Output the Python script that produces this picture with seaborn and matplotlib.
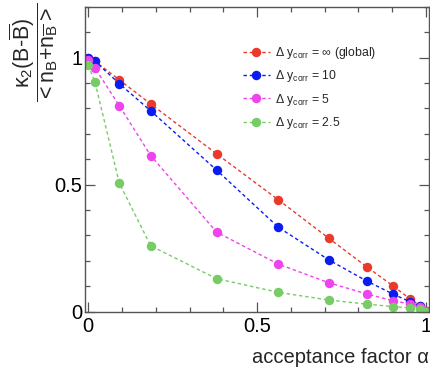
import matplotlib
matplotlib.use("Agg")
import matplotlib.pyplot as plt
from matplotlib.ticker import MultipleLocator, FuncFormatter
import seaborn as sns
import pandas as pd

# acceptance factor alpha at which the cumulant ratio was evaluated
alpha = [0.0, 0.02, 0.092, 0.185, 0.38, 0.563, 0.712, 0.824, 0.903, 0.953, 0.983, 1.0]

# normalised second cumulant of net baryons for each correlation length
ratio_global = [1.0, 0.985, 0.912, 0.817, 0.621, 0.440, 0.289, 0.177, 0.101, 0.050, 0.024, 0.004]
ratio_dy10 = [1.0, 0.985, 0.897, 0.790, 0.557, 0.332, 0.204, 0.121, 0.069, 0.039, 0.022, 0.003]
ratio_dy5 = [0.99, 0.958, 0.810, 0.614, 0.313, 0.187, 0.114, 0.070, 0.043, 0.030, 0.018, 0.002]
ratio_dy2p5 = [0.97, 0.902, 0.505, 0.259, 0.130, 0.076, 0.046, 0.030, 0.020, 0.015, 0.010, 0.0]

labels = [r"$\Delta$ y$_{\rm corr}$ = $\infty$ (global)",
          r"$\Delta$ y$_{\rm corr}$ = 10",
          r"$\Delta$ y$_{\rm corr}$ = 5",
          r"$\Delta$ y$_{\rm corr}$ = 2.5"]
colors = ["#ea3a2c", "#0a1cf0", "#ee44ee", "#77cc66"]

sns.set_style("ticks")
plt.rcParams["font.family"] = ["Liberation Sans", "DejaVu Sans"]
plt.rcParams["mathtext.fontset"] = "custom"
plt.rcParams["mathtext.rm"] = "Liberation Sans"
plt.rcParams["mathtext.it"] = "Liberation Sans"
plt.rcParams["mathtext.bf"] = "Liberation Sans:bold"

fig = plt.figure(figsize=(4.31, 3.68), dpi=100)
ax = fig.add_axes([85 / 431, 1 - 311.7 / 368, (429.3 - 85) / 431, (311.7 - 6.7) / 368])

for series, lab, col in zip([ratio_global, ratio_dy10, ratio_dy5, ratio_dy2p5], labels, colors):
    df = pd.DataFrame({"alpha": alpha, "ratio": series})
    sns.lineplot(data=df, x="alpha", y="ratio", ax=ax, color=col, label=lab,
                 linestyle=(0, (2.5, 2)), linewidth=1.0, marker="o", markersize=6.8,
                 markeredgewidth=0, markeredgecolor=col, markerfacecolor=col)

ax.set_xlim(-0.0098, 1.0098)
ax.set_ylim(0, 1.2)
ax.xaxis.set_major_locator(MultipleLocator(0.5))
ax.xaxis.set_minor_locator(MultipleLocator(0.1))
ax.yaxis.set_major_locator(MultipleLocator(0.5))
ax.yaxis.set_minor_locator(MultipleLocator(0.1))
ax.xaxis.set_major_formatter(FuncFormatter(lambda v, p: f"{v:g}"))
ax.yaxis.set_major_formatter(FuncFormatter(lambda v, p: f"{v:g}"))
ax.tick_params(which="both", direction="in", top=True, right=True, color="#555555",
               width=0.9, labelsize=14.5, labelcolor="black")
ax.tick_params(which="major", length=7.5)
ax.tick_params(which="minor", length=3.8)
ax.tick_params(axis="x", pad=4)
ax.tick_params(axis="y", pad=2)
for s in ax.spines.values():
    s.set_color("#555555")
    s.set_linewidth(1.0)

ax.set_xlabel("")
ax.set_ylabel("")
fig.text(429 / 431, 1 - 363 / 368, "acceptance factor α", ha="right", va="baseline",
         fontsize=14.5)
fig.text(34 / 431, 1 - 52 / 368,
         r"$\dfrac{\kappa_2(B\text{-}\overline{B})}{{<}n_B{+}n_{\overline{B}}{>}}$",
         rotation=90, ha="center", va="center", fontsize=15.5)

leg = ax.legend(loc="upper left", bbox_to_anchor=(243 / 431, 1 - 45 / 368),
                bbox_transform=fig.transFigure, frameon=False, fontsize=8.8,
                handlelength=2.2, handletextpad=0.45, labelspacing=0.6,
                borderaxespad=0, borderpad=0)

fig.savefig("out.png", dpi=100)
